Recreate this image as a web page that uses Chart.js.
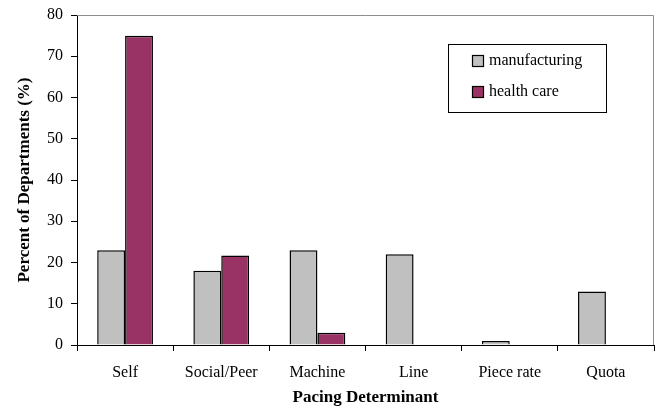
<!DOCTYPE html>
<html>
<head>
<meta charset="utf-8">
<script src="https://cdn.jsdelivr.net/npm/chart.js@4/dist/chart.umd.min.js"></script>
<style>
  html, body { margin: 0; padding: 0; background: #fff; }
  #wrap { width: 660px; height: 414px; }
</style>
</head>
<body>
<div id="wrap"><canvas id="pacingChart" width="660" height="414"></canvas></div>
<script>
const categorias = ['Self', 'Social/Peer', 'Machine', 'Line', 'Piece rate', 'Quota'];
const manufacturing = [23, 18, 23, 22, 1, 13];
const healthCare = [75, 21.7, 3, 0, 0, 0];
const yTicks = [0, 10, 20, 30, 40, 50, 60, 70, 80];

const serif = "'Liberation Serif', 'Times New Roman', serif";

// gray frame on top/right of plot area + boxed legend
const framePlugin = {
    id: 'frame',
    beforeDatasetsDraw(chart) {
        const a = chart.chartArea, ctx = chart.ctx;
        ctx.save();
        ctx.strokeStyle = '#8c8c8c';
        ctx.lineWidth = 1;
        ctx.beginPath();
        ctx.moveTo(a.left, a.top + 0.5);
        ctx.lineTo(a.right - 0.5, a.top + 0.5);
        ctx.lineTo(a.right - 0.5, a.bottom);
        ctx.stroke();
        ctx.restore();
    },
    afterDraw(chart) {
        const ctx = chart.ctx;
        const x = 448, y = 44, w = 158, h = 68;
        ctx.save();
        ctx.fillStyle = '#fff';
        ctx.fillRect(x, y, w, h);
        ctx.strokeStyle = '#000';
        ctx.lineWidth = 1;
        ctx.strokeRect(x + 0.5, y + 0.5, w, h);
        ctx.font = '16px ' + serif;
        ctx.textBaseline = 'middle';
        chart.data.datasets.forEach((ds, i) => {
            const ry = y + 17 + i * 31;
            ctx.fillStyle = ds.backgroundColor;
            ctx.fillRect(472.5, ry - 5.5, 11, 11);
            ctx.strokeStyle = '#000';
            ctx.lineWidth = 1.2;
            ctx.strokeRect(472.5, ry - 5.5, 11, 11);
            ctx.fillStyle = '#000';
            ctx.fillText(ds.label, 489, ry);
        });
        ctx.restore();
    }
};

const ctx = document.getElementById('pacingChart');
new Chart(ctx, {
    type: 'bar',
    data: {
        labels: categorias,
        datasets: [{
            label: 'manufacturing',
            data: manufacturing,
            backgroundColor: '#C0C0C0',
            borderColor: '#000',
            borderWidth: 1.5
        }, {
            label: 'health care',
            data: healthCare,
            backgroundColor: '#993366',
            borderColor: '#000',
            borderWidth: 1.5
        }]
    },
    options: {
        responsive: false,
        animation: false,
        devicePixelRatio: 1,
        layout: { padding: { top: 15, right: 6, left: 0, bottom: 6 } },
        datasets: { bar: { categoryPercentage: 0.58, barPercentage: 1.0 } },
        plugins: {
            legend: { display: false },
            tooltip: { enabled: false }
        },
        scales: {
            x: {
                grid: {
                    display: true,
                    offset: true,
                    drawOnChartArea: false,
                    drawTicks: true,
                    tickLength: 6,
                    color: '#000'
                },
                border: { color: '#000', width: 1 },
                ticks: {
                    color: '#000',
                    font: { family: serif, size: 16 },
                    padding: 12,
                    maxRotation: 0
                },
                title: {
                    display: true,
                    text: 'Pacing Determinant',
                    color: '#000',
                    font: { family: serif, size: 17, weight: 'bold' },
                    padding: { top: 4, bottom: 0 }
                },
                afterFit(scale) { scale.height = 63; }
            },
            y: {
                min: 0,
                max: 80,
                afterBuildTicks(scale) { scale.ticks = yTicks.map(v => ({ value: v })); },
                grid: {
                    display: true,
                    drawOnChartArea: false,
                    drawTicks: true,
                    tickLength: 6,
                    color: '#000'
                },
                border: { color: '#000', width: 1 },
                ticks: {
                    color: '#000',
                    font: { family: serif, size: 16 },
                    padding: 8
                },
                title: {
                    display: true,
                    text: 'Percent of Departments (%)',
                    color: '#000',
                    font: { family: serif, size: 17, weight: 'bold' },
                    padding: { top: 14, bottom: 8 }
                },
                afterFit(scale) {
                    scale.width = 77;
                    scale.paddingTop = 0;
                    scale.paddingBottom = 0;
                }
            }
        }
    },
    plugins: [framePlugin]
});
</script>
</body>
</html>
